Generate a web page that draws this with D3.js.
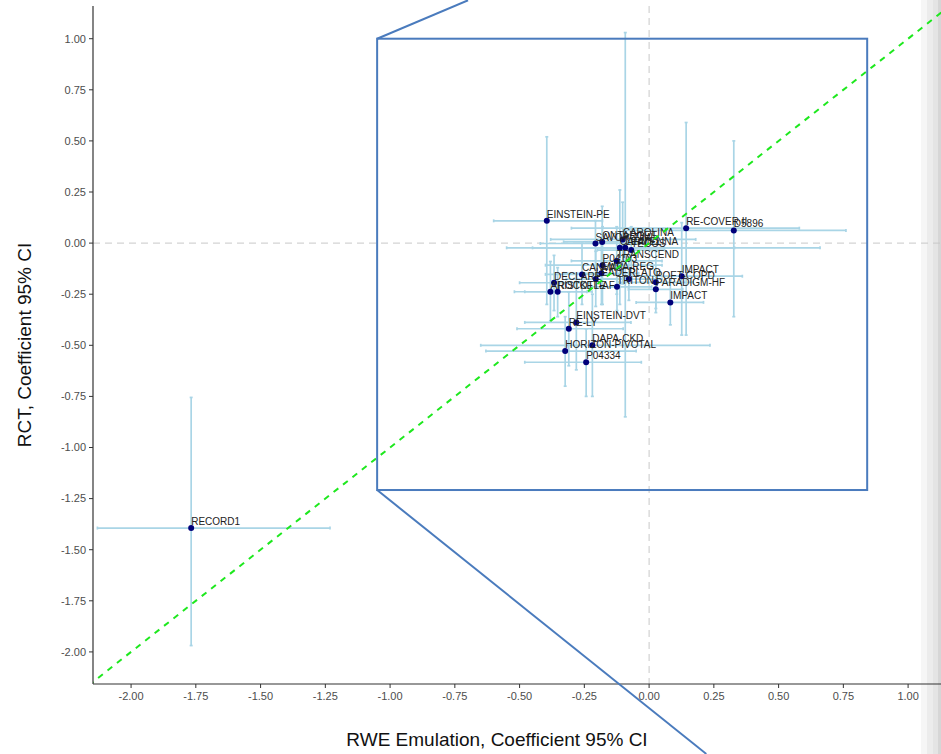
<!DOCTYPE html>
<html>
<head>
<meta charset="utf-8">
<script src="https://cdn.jsdelivr.net/npm/d3@7"></script>
<style>
  body { margin: 0; background: #fff; }
  text { font-family: "Liberation Sans", Arial, sans-serif; }
</style>
</head>
<body>
<div id="chart"></div>
<script>
'use strict';
// trial names + estimates (RWE on x, RCT on y)
const trials = ['EINSTEIN-PE', 'RE-COVER II', 'D5896', 'SAVOR-TIMI', 'ONTARGET', 'CAROLINA', 'CARMELINA',
  'LEAD-2', 'TECOS', 'TRANSCEND', 'P04103', 'CANVAS', 'LEADER', 'EMPA-REG', 'DECLARE', 'ARISTOTLE',
  'ROCKET-AF', 'TRITON', 'PLATO', 'POET-COPD', 'PARADIGM-HF', 'IMPACT', 'IMPACT', 'EINSTEIN-DVT',
  'RE-LY', 'DAPA-CKD', 'HORIZON-PIVOTAL', 'P04334', 'RECORD1'];
const rweEst = [-0.395, 0.143, 0.327, -0.207, -0.181, -0.102, -0.113, -0.092, -0.069, -0.125, -0.180, -0.259, -0.206, -0.184,
  -0.367, -0.381, -0.353, -0.124, -0.078, 0.026, 0.026, 0.126, 0.082, -0.281, -0.310, -0.219, -0.324, -0.243, -1.768];
const rweLo = [-0.60, -0.30, -0.10, -0.42, -0.33, -0.38, -0.55, -0.45, -0.20, -0.30, -0.40, -0.40, -0.32, -0.33,
  -0.50, -0.52, -0.48, -0.26, -0.20, -0.12, -0.08, -0.10, -0.05, -0.48, -0.51, -0.65, -0.63, -0.48, -2.13];
const rweHi = [-0.18, 0.58, 0.76, 0.02, -0.03, 0.18, 0.33, 0.66, 0.06, 0.05, 0.05, -0.12, -0.09, -0.04,
  -0.23, -0.24, -0.22, 0.01, 0.05, 0.17, 0.13, 0.36, 0.21, -0.07, -0.10, 0.235, -0.05, -0.03, -1.232];
const rctEst = [0.109, 0.073, 0.062, -0.002, 0.006, 0.018, -0.023, -0.023, -0.034, -0.087, -0.108, -0.153, -0.176, -0.148,
  -0.194, -0.238, -0.238, -0.214, -0.176, -0.192, -0.226, -0.162, -0.290, -0.388, -0.419, -0.500, -0.528, -0.583, -1.394];
const rctLo = [-0.30, -0.45, -0.36, -0.12, -0.10, -0.20, -0.30, -0.85, -0.15, -0.25, -0.30, -0.30, -0.31, -0.30,
  -0.33, -0.38, -0.36, -0.33, -0.28, -0.34, -0.32, -0.45, -0.40, -0.62, -0.60, -0.75, -0.70, -0.75, -1.969];
const rctHi = [0.52, 0.59, 0.50, 0.11, 0.18, 0.20, 0.26, 1.03, 0.08, 0.08, 0.08, 0.00, -0.04, 0.01,
  -0.06, -0.09, -0.12, -0.10, -0.07, -0.04, -0.13, 0.10, -0.18, -0.15, -0.24, -0.25, -0.36, -0.42, -0.755];

const xTicks = [-2, -1.75, -1.5, -1.25, -1, -0.75, -0.5, -0.25, 0, 0.25, 0.5, 0.75, 1];
const yTicks = [1, 0.75, 0.5, 0.25, 0, -0.25, -0.5, -0.75, -1, -1.25, -1.5, -1.75, -2];
// zoom box [x0, x1, y0, y1] and the two connector end points
const zoomBox = [-1.05, 0.842, -1.208, 1.0];
const connTop = [-0.699, 1.188];
const connBottom = [0.221, -2.499];

(function() {
  const W = 941, H = 754;
  const pL = 93, pR = 941, pT = 6, pB = 684;

  const x = d3.scaleLinear().domain([-2.147, 1.127]).range([pL, pR]);
  const y = d3.scaleLinear().domain([-2.157, 1.16]).range([pB, pT]);

  const svg = d3.select('#chart').append('svg')
    .attr('width', W).attr('height', H);

  // grey strip at right edge
  const strips = [[921, '#f6f6f6'], [927, '#ececec'], [933, '#e4e4e4'], [938, '#d6d6d6']];
  strips.forEach(function(s, i) {
    const x2 = i < strips.length - 1 ? strips[i + 1][0] : W;
    svg.append('rect').attr('x', s[0]).attr('y', 0).attr('width', x2 - s[0]).attr('height', H).attr('fill', s[1]);
  });

  svg.append('clipPath').attr('id', 'panel')
    .append('rect').attr('x', pL).attr('y', pT).attr('width', pR - pL).attr('height', pB - pT);

  const g = svg.append('g').attr('clip-path', 'url(#panel)');

  // reference lines at 0
  g.append('line').attr('x1', pL).attr('x2', pR).attr('y1', y(0)).attr('y2', y(0))
    .attr('stroke', '#c8c8c8').attr('stroke-dasharray', '7,5');
  g.append('line').attr('x1', x(0)).attr('x2', x(0)).attr('y1', pT).attr('y2', pB)
    .attr('stroke', '#c8c8c8').attr('stroke-dasharray', '7,5');

  const data = trials.map(function(t, i) {
    return { name: t, x: rweEst[i], xl: rweLo[i], xh: rweHi[i], y: rctEst[i], yl: rctLo[i], yh: rctHi[i] };
  });

  const ebColor = '#a9d5e6';
  const cap = 1.5;
  const eb = g.append('g').attr('stroke', ebColor).attr('stroke-width', 1.7);
  data.forEach(function(d) {
    eb.append('line').attr('x1', x(d.xl)).attr('x2', x(d.xh)).attr('y1', y(d.y)).attr('y2', y(d.y));
    eb.append('line').attr('x1', x(d.xl)).attr('x2', x(d.xl)).attr('y1', y(d.y) - cap).attr('y2', y(d.y) + cap);
    eb.append('line').attr('x1', x(d.xh)).attr('x2', x(d.xh)).attr('y1', y(d.y) - cap).attr('y2', y(d.y) + cap);
    eb.append('line').attr('x1', x(d.x)).attr('x2', x(d.x)).attr('y1', y(d.yl)).attr('y2', y(d.yh));
    eb.append('line').attr('x1', x(d.x) - cap).attr('x2', x(d.x) + cap).attr('y1', y(d.yl)).attr('y2', y(d.yl));
    eb.append('line').attr('x1', x(d.x) - cap).attr('x2', x(d.x) + cap).attr('y1', y(d.yh)).attr('y2', y(d.yh));
  });

  g.selectAll('circle.pt')
    .data(data)
    .enter().append('circle')
    .attr('class', 'pt')
    .attr('cx', function(d) { return x(d.x); })
    .attr('cy', function(d) { return y(d.y); })
    .attr('r', 3)
    .attr('fill', '#00007a');

  g.selectAll('text.lbl')
    .data(data)
    .enter().append('text')
    .attr('class', 'lbl')
    .attr('x', function(d) { return x(d.x); })
    .attr('y', function(d) { return y(d.y) - 3; })
    .attr('font-size', 10)
    .attr('fill', '#222')
    .text(function(d) { return d.name; });

  // identity line
  g.append('line')
    .attr('x1', x(-2.2)).attr('y1', y(-2.2)).attr('x2', x(1.2)).attr('y2', y(1.2))
    .attr('stroke', '#1ee81e').attr('stroke-width', 2).attr('stroke-dasharray', '6,6');

  // axes
  svg.append('line').attr('x1', pL).attr('x2', pL).attr('y1', pT).attr('y2', pB)
    .attr('stroke', '#333').attr('stroke-width', 1.2);
  svg.append('line').attr('x1', pL).attr('x2', W).attr('y1', pB).attr('y2', pB)
    .attr('stroke', '#333').attr('stroke-width', 1.2);

  const yAx = svg.append('g');
  yTicks.forEach(function(t) {
    yAx.append('line').attr('x1', pL - 4).attr('x2', pL).attr('y1', y(t)).attr('y2', y(t)).attr('stroke', '#333');
    yAx.append('text').attr('x', pL - 7).attr('y', y(t)).attr('dy', '0.35em')
      .attr('text-anchor', 'end').attr('font-size', 11).attr('fill', '#4d4d4d').text(t.toFixed(2));
  });
  const xAx = svg.append('g');
  xTicks.forEach(function(t) {
    xAx.append('line').attr('x1', x(t)).attr('x2', x(t)).attr('y1', pB).attr('y2', pB + 4).attr('stroke', '#333');
    xAx.append('text').attr('x', x(t)).attr('y', pB + 16)
      .attr('text-anchor', 'middle').attr('font-size', 11).attr('fill', '#4d4d4d').text(t.toFixed(2));
  });

  svg.append('text').attr('x', 497).attr('y', 746).attr('text-anchor', 'middle')
    .attr('font-size', 19).attr('fill', '#111').text('RWE Emulation, Coefficient 95% CI');
  svg.append('text').attr('transform', 'translate(31,345) rotate(-90)').attr('text-anchor', 'middle')
    .attr('font-size', 19).attr('fill', '#111').text('RCT, Coefficient 95% CI');

  // zoom box + connectors
  const boxColor = '#4a7bbd';
  svg.append('rect')
    .attr('x', x(zoomBox[0])).attr('y', y(zoomBox[3]))
    .attr('width', x(zoomBox[1]) - x(zoomBox[0]))
    .attr('height', y(zoomBox[2]) - y(zoomBox[3]))
    .attr('fill', 'none').attr('stroke', boxColor).attr('stroke-width', 2);
  svg.append('line')
    .attr('x1', x(zoomBox[0])).attr('y1', y(zoomBox[3])).attr('x2', x(connTop[0])).attr('y2', y(connTop[1]))
    .attr('stroke', boxColor).attr('stroke-width', 2);
  svg.append('line')
    .attr('x1', x(zoomBox[0])).attr('y1', y(zoomBox[2])).attr('x2', x(connBottom[0])).attr('y2', y(connBottom[1]))
    .attr('stroke', boxColor).attr('stroke-width', 2);
})();
</script>
</body>
</html>
